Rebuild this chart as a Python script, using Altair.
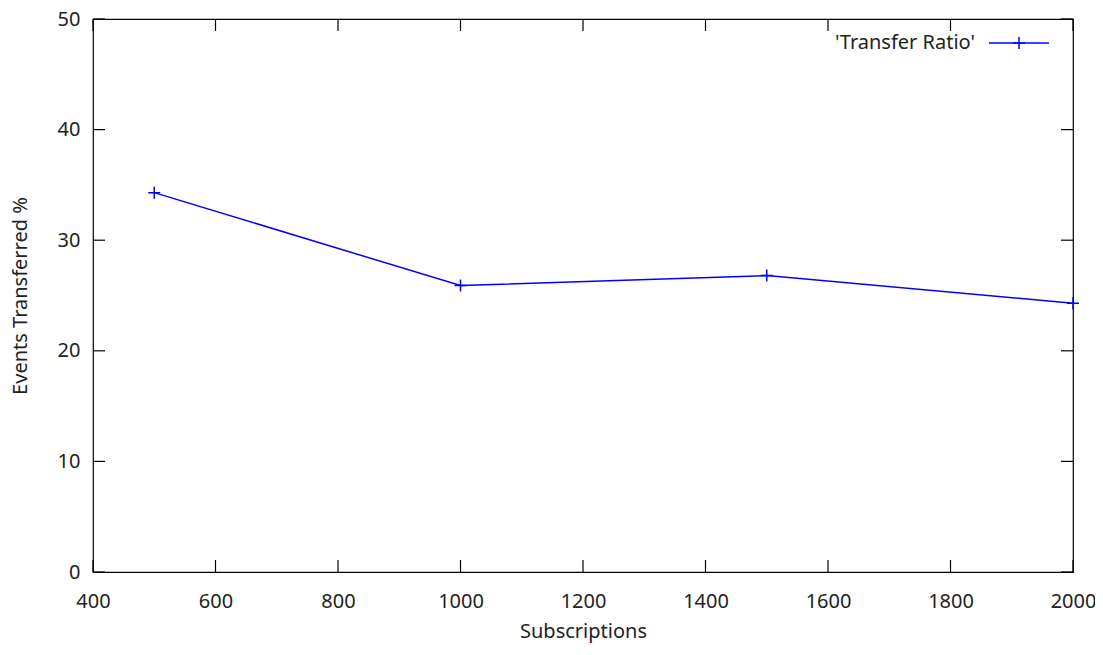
import altair as alt
import pandas as pd

subscriptions = [500, 1000, 1500, 2000]
transfer_pct = [34.3, 25.9, 26.8, 24.3]
series_name = "'Transfer Ratio'"
x_ticks = [400, 600, 800, 1000, 1200, 1400, 1600, 1800, 2000]
y_ticks = [0, 10, 20, 30, 40, 50]

W, H = 980, 553
FONT = "Noto Sans"
FS = 20
BLUE = "#0000ff"
TICK = 12
CROSS = "M-1,0L1,0M0,-1L0,1"

df = pd.DataFrame({"x": subscriptions, "y": transfer_pct})
xt = pd.DataFrame({"x": x_ticks})
yt = pd.DataFrame({"y": y_ticks})

xscale = alt.Scale(domain=[400, 2000], nice=False, zero=False)
yscale = alt.Scale(domain=[0, 50], nice=False)
xaxis = alt.Axis(values=x_ticks, format="d", ticks=False, domain=False, grid=False,
                 labelFont=FONT, labelFontSize=FS, labelPadding=19, labelColor="#222",
                 title="Subscriptions", titleFont=FONT, titleFontSize=FS,
                 titleFontWeight="normal", titleColor="#222", titlePadding=10,
                 labelFlush=False)
yaxis = alt.Axis(values=y_ticks, format="d", ticks=False, domain=False, grid=False,
                 labelFont=FONT, labelFontSize=FS, labelPadding=13, labelColor="#222",
                 title="Events Transferred %", titleFont=FONT, titleFontSize=FS,
                 titleFontWeight="normal", titleColor="#222", titlePadding=27,
                 labelFlush=False)


def X():
    return alt.X("x:Q", scale=xscale, axis=xaxis)


def Y():
    return alt.Y("y:Q", scale=yscale, axis=yaxis)


line = alt.Chart(df).mark_line(color=BLUE, strokeWidth=1.5, clip=False).encode(x=X(), y=Y())
pts = alt.Chart(df).mark_point(shape=CROSS, size=144, filled=False, color=BLUE,
                               strokeWidth=1.5, opacity=1, clip=False).encode(x=X(), y=Y())

tick_style = dict(color="black", strokeWidth=1.2)
xb = alt.Chart(xt).mark_rule(**tick_style).encode(x=X(), y=alt.value(H), y2=alt.value(H - TICK))
xtp = alt.Chart(xt).mark_rule(**tick_style).encode(x=X(), y=alt.value(0), y2=alt.value(TICK))
yl = alt.Chart(yt).mark_rule(**tick_style).encode(y=Y(), x=alt.value(0), x2=alt.value(TICK))
yr = alt.Chart(yt).mark_rule(**tick_style).encode(y=Y(), x=alt.value(W), x2=alt.value(W - TICK))

leg_df = pd.DataFrame({"label": [series_name]})
leg_text = alt.Chart(leg_df).mark_text(align="right", baseline="middle", font=FONT,
                                       fontSize=FS, color="#222").encode(
    x=alt.value(882), y=alt.value(24), text="label:N")
leg_line = alt.Chart(leg_df).mark_rule(color=BLUE, strokeWidth=1.5).encode(
    x=alt.value(896), x2=alt.value(956), y=alt.value(24))
leg_pt = alt.Chart(leg_df).mark_point(shape=CROSS, size=144, filled=False, color=BLUE,
                                      strokeWidth=1.5, opacity=1).encode(
    x=alt.value(926), y=alt.value(24))

chart = alt.layer(xb, xtp, yl, yr, line, pts, leg_text, leg_line, leg_pt).properties(
    width=W, height=H,
    autosize=alt.AutoSizeParams(type="none"),
    padding={"left": 85, "top": 11, "right": 22, "bottom": 71},
    background="white",
).configure_view(stroke="black", strokeWidth=1.2)

chart.save("out.html", embed_options={"renderer": "svg", "actions": False})
